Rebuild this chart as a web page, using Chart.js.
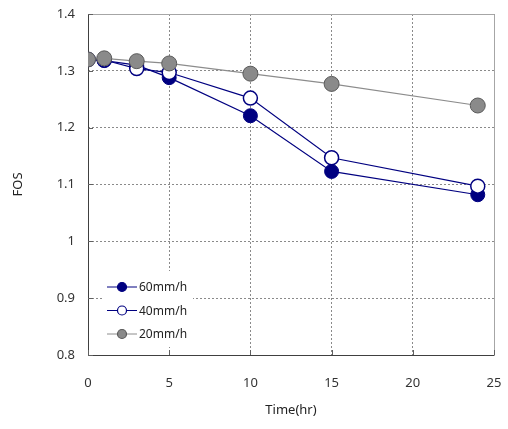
<!DOCTYPE html>
<html>
<head>
<meta charset="utf-8">
<title>FOS vs Time</title>
<script src="https://cdn.jsdelivr.net/npm/chart.js@4.4.1/dist/chart.umd.min.js"></script>
<style>
    html, body { margin: 0; padding: 0; background: #fff; }
    #wrap { width: 508px; height: 429px; }
</style>
</head>
<body>
<div id="wrap"><canvas id="fosChart" width="508" height="429"></canvas></div>
<script>
// Data
const times = [0, 1, 3, 5, 10, 15, 24];
const fos60 = [1.320, 1.318, 1.310, 1.288, 1.221, 1.123, 1.082];
const fos40 = [1.320, 1.319, 1.304, 1.297, 1.252, 1.147, 1.097];
const fos20 = [1.320, 1.322, 1.317, 1.313, 1.295, 1.277, 1.239];
const seriesLabels = ['60mm/h', '40mm/h', '20mm/h'];
const xTicks = [0, 5, 10, 15, 20, 25];
const yTicks = [0.8, 0.9, 1.0, 1.1, 1.2, 1.3, 1.4];

const NAVY = '#000080';
const GREY_LINE = '#8c8c8c';
const FONT = '"Noto Sans", "DejaVu Sans", sans-serif';

function toPoints(values) {
    return times.map((t, i) => ({ x: t, y: values[i] }));
}

// frame, inward ticks and the line+marker legend
const framePlugin = {
    id: 'frame',
    beforeDatasetsDraw(chart) {
        const { ctx, chartArea: a, scales } = chart;
        ctx.save();
        // legend background hides the grid lines behind it
        ctx.fillStyle = '#fff';
        ctx.fillRect(a.left + 15, a.bottom - 84, 90, 76);

        ctx.lineWidth = 1;
        ctx.strokeStyle = '#a6a6a6';
        ctx.beginPath();
        ctx.moveTo(a.left, a.top + 0.5);
        ctx.lineTo(a.right + 0.5, a.top + 0.5);
        ctx.lineTo(a.right + 0.5, a.bottom);
        ctx.stroke();

        ctx.strokeStyle = '#404040';
        ctx.beginPath();
        ctx.moveTo(a.left + 0.5, a.top);
        ctx.lineTo(a.left + 0.5, a.bottom + 0.5);
        ctx.lineTo(a.right + 0.5, a.bottom + 0.5);
        ctx.stroke();

        // small inward tick marks
        ctx.strokeStyle = '#606060';
        ctx.beginPath();
        xTicks.forEach(v => {
            const px = Math.round(scales.x.getPixelForValue(v)) + 0.5;
            ctx.moveTo(px, a.bottom);
            ctx.lineTo(px, a.bottom - 5);
        });
        yTicks.forEach(v => {
            const py = Math.round(scales.y.getPixelForValue(v)) + 0.5;
            ctx.moveTo(a.left, py);
            ctx.lineTo(a.left + 5, py);
        });
        ctx.stroke();
        ctx.restore();
    },
    afterDatasetsDraw(chart) {
        const { ctx, chartArea: a } = chart;
        ctx.save();
        ctx.font = '12px ' + FONT;
        ctx.textBaseline = 'middle';
        chart.data.datasets.forEach((ds, row) => {
            const y = a.bottom - 68 + row * 23.5;
            const x0 = a.left + 19;
            ctx.strokeStyle = ds.borderColor;
            ctx.lineWidth = 1;
            ctx.beginPath();
            ctx.moveTo(x0, y);
            ctx.lineTo(x0 + 30, y);
            ctx.stroke();
            ctx.beginPath();
            ctx.arc(x0 + 15, y, 4.5, 0, Math.PI * 2);
            ctx.fillStyle = ds.pointBackgroundColor;
            ctx.fill();
            ctx.strokeStyle = ds.pointBorderColor;
            ctx.lineWidth = 1.2;
            ctx.stroke();
            ctx.fillStyle = '#222';
            ctx.fillText(ds.label, x0 + 32, y + 1);
        });
        ctx.restore();
    }
};

const ctx = document.getElementById('fosChart');

new Chart(ctx, {
    type: 'scatter',
    data: {
        datasets: [
            {
                label: seriesLabels[0],
                data: toPoints(fos60),
                showLine: true,
                borderColor: NAVY,
                borderWidth: 1.2,
                pointBackgroundColor: NAVY,
                pointBorderColor: NAVY,
                pointBorderWidth: 1,
                pointRadius: 7,
                order: 2
            },
            {
                label: seriesLabels[1],
                data: toPoints(fos40),
                showLine: true,
                borderColor: NAVY,
                borderWidth: 1.2,
                pointBackgroundColor: '#ffffff',
                pointBorderColor: NAVY,
                pointBorderWidth: 1.5,
                pointRadius: 7,
                order: 1
            },
            {
                label: seriesLabels[2],
                data: toPoints(fos20),
                showLine: true,
                borderColor: GREY_LINE,
                borderWidth: 1.2,
                pointBackgroundColor: '#8a8a8a',
                pointBorderColor: '#5a5a5a',
                pointBorderWidth: 1,
                pointRadius: 7.5,
                order: 0
            }
        ]
    },
    options: {
        responsive: false,
        animation: false,
        layout: { padding: { top: 14, right: 14, left: 0, bottom: 0 } },
        plugins: {
            legend: { display: false },
            tooltip: { enabled: false }
        },
        scales: {
            x: {
                type: 'linear',
                min: 0,
                max: 25,
                afterBuildTicks: scale => { scale.ticks = xTicks.map(v => ({ value: v })); },
                afterFit: scale => {
                    scale.height = 74;
                    scale.paddingLeft = 0;
                    scale.paddingRight = 0;
                },
                grid: { color: '#8a8a8a', drawTicks: false },
                border: { display: false, dash: [2, 2] },
                ticks: {
                    padding: 20,
                    color: '#333',
                    font: { family: FONT, size: 13 }
                },
                title: {
                    display: true,
                    text: 'Time(hr)',
                    color: '#222',
                    font: { family: FONT, size: 13 },
                    padding: { top: 0, bottom: 11 }
                }
            },
            y: {
                min: 0.8,
                max: 1.4,
                afterBuildTicks: scale => { scale.ticks = yTicks.map(v => ({ value: v })); },
                afterFit: scale => {
                    scale.width = 88;
                    scale.paddingTop = 0;
                    scale.paddingBottom = 0;
                },
                grid: { color: '#8a8a8a', drawTicks: false },
                border: { display: false, dash: [2, 2] },
                ticks: {
                    padding: 13,
                    color: '#333',
                    font: { family: FONT, size: 13 },
                    callback: v => String(Math.round(v * 10) / 10)
                },
                title: {
                    display: true,
                    text: 'FOS',
                    color: '#222',
                    font: { family: FONT, size: 13 },
                    padding: { top: 10, bottom: 0 }
                }
            }
        }
    },
    plugins: [framePlugin]
});
</script>
</body>
</html>
